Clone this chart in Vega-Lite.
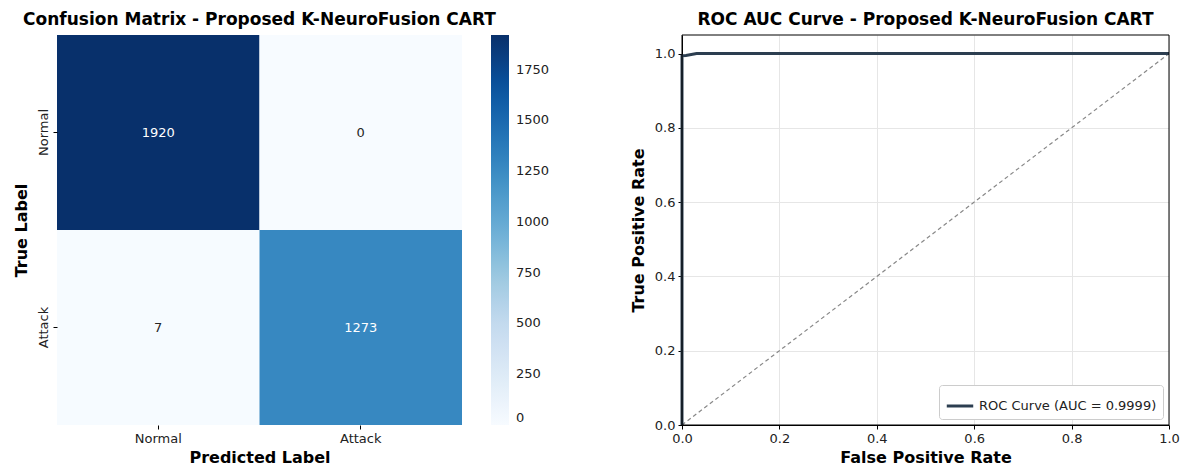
{
  "$schema": "https://vega.github.io/schema/vega-lite/v6.json",
  "padding": {"left": 13, "top": 10, "right": 5, "bottom": 5},
  "background": "white",
  "config": {
    "font": "DejaVu Sans",
    "view": {"stroke": null},
    "title": {"font": "DejaVu Sans", "fontSize": 17, "fontWeight": "bold", "color": "#000", "offset": 6},
    "axis": {"labelFont": "DejaVu Sans", "labelFontSize": 13, "labelColor": "#222", "titleFont": "DejaVu Sans", "titleFontSize": 16, "titleFontWeight": "bold", "titleColor": "#000", "tickColor": "#000", "tickSize": 4, "labelPadding": 3, "labelFlush": false}
  },
  "hconcat": [
    {
      "title": "Confusion Matrix - Proposed K-NeuroFusion CART",
      "width": 405,
      "height": 390,
      "data": {"values": [
        {"actual": "Normal", "predicted": "Normal", "count": 1920},
        {"actual": "Normal", "predicted": "Attack", "count": 0},
        {"actual": "Attack", "predicted": "Normal", "count": 7},
        {"actual": "Attack", "predicted": "Attack", "count": 1273}
      ]},
      "encoding": {
        "x": {"field": "predicted", "type": "nominal", "sort": ["Normal", "Attack"], "scale": {"paddingInner": 0, "paddingOuter": 0},
          "axis": {"title": "Predicted Label", "labelAngle": 0, "domain": false, "titlePadding": 4}},
        "y": {"field": "actual", "type": "nominal", "sort": ["Normal", "Attack"], "scale": {"paddingInner": 0, "paddingOuter": 0},
          "axis": {"title": "True Label", "labelAngle": -90, "labelAlign": "center", "labelBaseline": "bottom", "domain": false, "titlePadding": 8}}
      },
      "layer": [
        {
          "mark": {"type": "rect"},
          "encoding": {
            "color": {"field": "count", "type": "quantitative",
              "scale": {"domain": [0, 240, 480, 720, 960, 1200, 1440, 1680, 1920], "range": ["#f7fbff", "#deebf7", "#c6dbef", "#9ecae1", "#6baed6", "#4292c6", "#2171b5", "#08519c", "#08306b"]},
              "legend": {"title": null, "orient": "right", "direction": "vertical", "gradientLength": 390, "gradientThickness": 18, "offset": 29, "padding": 0, "values": [0, 250, 500, 750, 1000, 1250, 1500, 1750], "format": "d", "labelFontSize": 13, "labelFont": "DejaVu Sans", "labelColor": "#222", "labelOffset": 7, "gradientStrokeWidth": 0}}
          }
        },
        {
          "mark": {"type": "text", "fontSize": 13, "font": "DejaVu Sans"},
          "encoding": {
            "text": {"field": "count", "type": "quantitative"},
            "color": {"condition": {"test": "datum.count > 960", "value": "white"}, "value": "#262626"}
          }
        }
      ]
    },
    {
      "title": "ROC AUC Curve - Proposed K-NeuroFusion CART",
      "width": 487,
      "height": 390,
      "layer": [
        {
          "data": {"values": [{"fpr": 0, "tpr": 0}, {"fpr": 1, "tpr": 1}]},
          "mark": {"type": "line", "strokeDash": [4, 3], "color": "#888888", "strokeWidth": 1.2, "clip": true},
          "encoding": {
            "x": {"field": "fpr", "type": "quantitative", "scale": {"domain": [0, 1], "nice": false},
              "axis": {"title": "False Positive Rate", "values": [0, 0.2, 0.4, 0.6, 0.8, 1.0], "format": ".1f", "grid": true, "gridColor": "#e6e6e6", "domainColor": "#000", "titlePadding": 4}},
            "y": {"field": "tpr", "type": "quantitative", "scale": {"domain": [0, 1.05], "nice": false},
              "axis": {"title": "True Positive Rate", "values": [0, 0.2, 0.4, 0.6, 0.8, 1.0], "format": ".1f", "grid": true, "gridColor": "#e6e6e6", "domainColor": "#000", "titlePadding": 8}}
          }
        },
        {
          "data": {"values": [
            {"fpr": 0, "tpr": 0, "series": "ROC Curve (AUC = 0.9999)"},
            {"fpr": 0, "tpr": 0.994, "series": "ROC Curve (AUC = 0.9999)"},
            {"fpr": 0.008, "tpr": 0.995, "series": "ROC Curve (AUC = 0.9999)"},
            {"fpr": 0.03, "tpr": 1.0, "series": "ROC Curve (AUC = 0.9999)"},
            {"fpr": 1, "tpr": 1.0, "series": "ROC Curve (AUC = 0.9999)"}
          ]},
          "mark": {"type": "line", "strokeWidth": 3, "clip": false},
          "encoding": {
            "x": {"field": "fpr", "type": "quantitative"},
            "y": {"field": "tpr", "type": "quantitative"},
            "color": {"field": "series", "type": "nominal", "scale": {"range": ["#2c3e50"]},
              "legend": {"title": null, "orient": "bottom-right", "offset": 6, "symbolType": "stroke", "symbolStrokeWidth": 3, "symbolSize": 700, "labelFontSize": 13, "labelLimit": 400, "labelFont": "DejaVu Sans", "labelColor": "#222", "strokeColor": "#cccccc", "fillColor": "white", "padding": 6, "cornerRadius": 3}}
          }
        },
        {
          "data": {"values": [{"a": 1}]},
          "mark": {"type": "rect", "fill": null, "stroke": "#000", "strokeWidth": 1},
          "encoding": {}
        }
      ]
    }
  ],
  "resolve": {"scale": {"color": "independent"}, "legend": {"color": "independent"}},
  "spacing": 80
}
